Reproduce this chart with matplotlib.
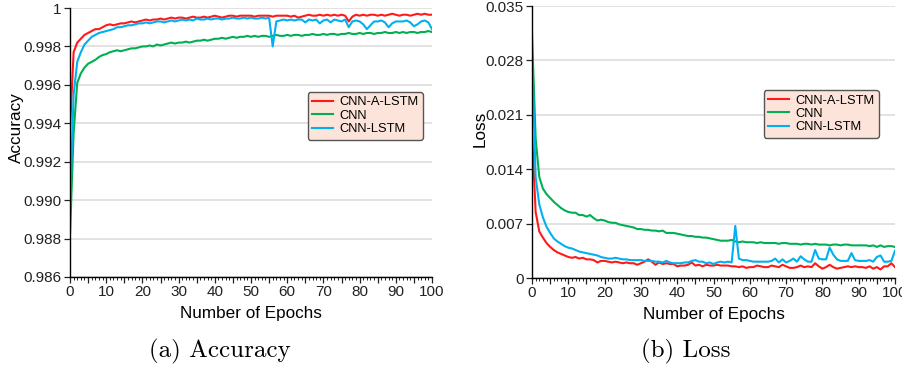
import numpy as np
import matplotlib
matplotlib.use("Agg")
import matplotlib.pyplot as plt
from matplotlib.ticker import MultipleLocator

plt.rcParams['font.family'] = ['Liberation Sans', 'DejaVu Sans']

labels = ["CNN-A-LSTM", "CNN", "CNN-LSTM"]
colors = ["#ff1a1a", "#00b050", "#00b0f0"]

# accuracy per epoch (0..100)
acc_cnn_a_lstm = [
    0.9937, 0.9977, 0.9982, 0.9984, 0.9986, 0.9987, 0.9988, 0.9989, 0.9989, 0.9990,
    0.9991, 0.99915, 0.9991, 0.99915, 0.9992, 0.9992, 0.99925, 0.9993, 0.99925, 0.9993,
    0.99935, 0.9994, 0.99935, 0.9994, 0.9994, 0.99945, 0.9994, 0.99945, 0.9995, 0.99945,
    0.9995, 0.9995, 0.99945, 0.9995, 0.99955, 0.9995, 0.9995, 0.99955, 0.9995, 0.99955,
    0.9996, 0.99955, 0.9995, 0.99955, 0.9996, 0.9996, 0.99955, 0.9996, 0.9996, 0.9996,
    0.9996, 0.99955, 0.9996, 0.9996, 0.9996, 0.9996, 0.99955, 0.9996, 0.9996, 0.9996,
    0.9996, 0.99955, 0.9996, 0.9995, 0.99955, 0.9996, 0.99965, 0.9996, 0.9996, 0.99965,
    0.9996, 0.99965, 0.9996, 0.99965, 0.9996, 0.99965, 0.9996, 0.9993, 0.99955, 0.99965,
    0.9996, 0.99965, 0.9996, 0.99965, 0.99965, 0.9996, 0.99965, 0.9996, 0.99965, 0.9997,
    0.99965, 0.9996, 0.99965, 0.99965, 0.9996, 0.99965, 0.9997, 0.99965, 0.9997, 0.99965,
    0.99965]
acc_cnn = [
    0.9882, 0.9935, 0.9961, 0.9966, 0.9969, 0.9971, 0.9972, 0.9973, 0.99745, 0.99755,
    0.9976, 0.9977, 0.99775, 0.9978, 0.99775, 0.9978, 0.99785, 0.9979, 0.9979, 0.99795,
    0.9980, 0.9980, 0.99805, 0.9980, 0.9981, 0.99805, 0.9981, 0.99815, 0.9982, 0.99815,
    0.9982, 0.9982, 0.99825, 0.9982, 0.99825, 0.9983, 0.9983, 0.99835, 0.9983, 0.99835,
    0.9984, 0.9984, 0.99845, 0.9984, 0.99845, 0.9985, 0.99845, 0.9985, 0.9985, 0.99855,
    0.9985, 0.99855, 0.9985, 0.99855, 0.99855, 0.9985, 0.99855, 0.9986, 0.99855, 0.99855,
    0.9986, 0.99855, 0.9986, 0.9986, 0.99855, 0.9986, 0.9986, 0.99865, 0.9986, 0.9986,
    0.99865, 0.9986, 0.99865, 0.99865, 0.9986, 0.99865, 0.99865, 0.9987, 0.99865, 0.99865,
    0.9987, 0.99865, 0.9987, 0.9987, 0.99865, 0.9987, 0.9987, 0.99875, 0.9987, 0.9987,
    0.99875, 0.9987, 0.99875, 0.9987, 0.99875, 0.99875, 0.9987, 0.99875, 0.99875, 0.9988,
    0.99875]
acc_cnn_lstm = [
    0.9897, 0.9955, 0.9972, 0.9977, 0.9981, 0.9983, 0.9985, 0.9986, 0.9987, 0.99875,
    0.9988, 0.99885, 0.9989, 0.9990, 0.9990, 0.99905, 0.9991, 0.9991, 0.99915, 0.9992,
    0.9992, 0.99925, 0.9992, 0.99925, 0.9993, 0.9993, 0.99925, 0.9993, 0.99935, 0.9993,
    0.99935, 0.9994, 0.99935, 0.9994, 0.99935, 0.99945, 0.9994, 0.9994, 0.99945, 0.9994,
    0.99945, 0.99945, 0.9994, 0.99945, 0.99945, 0.9995, 0.99945, 0.99945, 0.9995, 0.99945,
    0.9995, 0.99945, 0.99945, 0.9995, 0.99945, 0.9995, 0.9980, 0.9993, 0.99935, 0.9994,
    0.99935, 0.9994, 0.99935, 0.9994, 0.9994, 0.99925, 0.9994, 0.99935, 0.9994, 0.9992,
    0.99935, 0.9994, 0.99925, 0.9994, 0.99935, 0.9993, 0.9994, 0.9990, 0.9993, 0.99935,
    0.9993, 0.99915, 0.9989, 0.9991, 0.9993, 0.9993, 0.99935, 0.99925, 0.9990, 0.9992,
    0.9993, 0.9993, 0.9993, 0.99935, 0.99925, 0.99905, 0.99915, 0.9993, 0.99935, 0.99925,
    0.9989]

# loss per epoch (0..100)
loss_cnn_a_lstm = [
    0.0188, 0.0085, 0.0060, 0.0052, 0.0045, 0.0040, 0.0036, 0.0033, 0.0031, 0.0029,
    0.0027, 0.0026, 0.0027, 0.0025, 0.0026, 0.0024, 0.0024, 0.0023, 0.0020, 0.0022,
    0.0022, 0.0021, 0.0020, 0.0021, 0.0020, 0.0019, 0.0020, 0.0019, 0.0019, 0.0017,
    0.0019, 0.0021, 0.0024, 0.0021, 0.0017, 0.0020, 0.0018, 0.0019, 0.0018, 0.0018,
    0.0015, 0.0016, 0.0016, 0.0017, 0.0020, 0.0016, 0.0017, 0.0015, 0.0017, 0.0016,
    0.0016, 0.0017, 0.0016, 0.0016, 0.0016, 0.0015, 0.0015, 0.0014, 0.0015, 0.0013,
    0.0014, 0.0014, 0.0016, 0.0015, 0.0014, 0.0014, 0.0016, 0.0015, 0.0014, 0.0017,
    0.0015, 0.0013, 0.0013, 0.0014, 0.0016, 0.0014, 0.0015, 0.0014, 0.0019, 0.0015,
    0.0012, 0.0014, 0.0017, 0.0014, 0.0012, 0.0013, 0.0014, 0.0015, 0.0014, 0.0015,
    0.0014, 0.0014, 0.0013, 0.0015, 0.0012, 0.0014, 0.0011, 0.0015, 0.0015, 0.0019,
    0.0014]
loss_cnn = [
    0.0314, 0.0180, 0.0130, 0.0115, 0.0108, 0.0103, 0.0098, 0.0094, 0.0090, 0.0087,
    0.0085, 0.0084, 0.0084, 0.0081, 0.0081, 0.0079, 0.0081, 0.0077, 0.0074, 0.0075,
    0.0074, 0.0072, 0.0071, 0.0071, 0.0069, 0.0068, 0.0067, 0.0066, 0.0065, 0.0063,
    0.0063, 0.0062, 0.0062, 0.0061, 0.0061, 0.0060, 0.0061, 0.0058, 0.0058, 0.0058,
    0.0057, 0.0056, 0.0055, 0.0054, 0.0054, 0.0053, 0.0053, 0.0052, 0.0052, 0.0051,
    0.0050, 0.0049, 0.0048, 0.0048, 0.0048, 0.0049, 0.0047, 0.0046, 0.0047, 0.0046,
    0.0046, 0.0046, 0.0045, 0.0046, 0.0045, 0.0045, 0.0045, 0.0045, 0.0044, 0.0045,
    0.0045, 0.0044, 0.0044, 0.0044, 0.0043, 0.0044, 0.0044, 0.0043, 0.0044, 0.0043,
    0.0043, 0.0043, 0.0042, 0.0043, 0.0043, 0.0042, 0.0043, 0.0043, 0.0042, 0.0042,
    0.0042, 0.0042, 0.0042, 0.0041, 0.0042, 0.0040, 0.0042, 0.0040, 0.0041, 0.0041,
    0.0040]
loss_cnn_lstm = [
    0.0290, 0.0130, 0.0095, 0.0078, 0.0066, 0.0058, 0.0051, 0.0047, 0.0044, 0.0041,
    0.0039, 0.0038, 0.0036, 0.0034, 0.0033, 0.0032, 0.0031, 0.0030, 0.0029, 0.0027,
    0.0026, 0.0025, 0.0025, 0.0026, 0.0025, 0.0024, 0.0024, 0.0023, 0.0023, 0.0023,
    0.0023, 0.0022, 0.0022, 0.0022, 0.0021, 0.0021, 0.0020, 0.0022, 0.0020, 0.0019,
    0.0019, 0.0019, 0.0020, 0.0020, 0.0022, 0.0023, 0.0021, 0.0021, 0.0019, 0.0020,
    0.0018, 0.0020, 0.0021, 0.0020, 0.0021, 0.0020, 0.0067, 0.0025, 0.0023, 0.0023,
    0.0022, 0.0021, 0.0021, 0.0021, 0.0021, 0.0021, 0.0022, 0.0025, 0.0020, 0.0024,
    0.0020, 0.0022, 0.0025, 0.0021, 0.0028, 0.0024, 0.0021, 0.0021, 0.0036, 0.0025,
    0.0024, 0.0024, 0.0039, 0.0030, 0.0024, 0.0022, 0.0022, 0.0022, 0.0032, 0.0023,
    0.0022, 0.0022, 0.0022, 0.0023, 0.0021, 0.0027, 0.0029, 0.0021, 0.0021, 0.0022,
    0.0035]

epochs = np.arange(len(acc_cnn))

acc_ticks = [0.986, 0.988, 0.990, 0.992, 0.994, 0.996, 0.998, 1.0]
acc_ticklabels = ["0.986", "0.988", "0.990", "0.992", "0.994", "0.996", "0.998", "1"]
loss_ticks = [0, 0.007, 0.014, 0.021, 0.028, 0.035]
loss_ticklabels = ["0", "0.007", "0.014", "0.021", "0.028", "0.035"]

W, H = 902, 369
fig = plt.figure(figsize=(W / 100, H / 100), dpi=100)


def px_axes(x0, y0, x1, y1):
    return fig.add_axes([x0 / W, 1 - y1 / H, (x1 - x0) / W, (y1 - y0) / H])


def style(ax, ticks, ticklabels, ylim):
    ax.set_xlim(0, 100)
    ax.set_ylim(*ylim)
    ax.set_yticks(ticks)
    ax.set_yticklabels(ticklabels)
    ax.xaxis.set_major_locator(MultipleLocator(5))
    ax.set_xticklabels([str(int(t)) if int(t) % 10 == 0 else "" for t in ax.get_xticks()])
    ax.xaxis.set_minor_locator(MultipleLocator(1))
    ax.tick_params(axis='x', which='major', length=4, width=0.9, pad=2, labelsize=11, colors='#222222')
    ax.tick_params(axis='x', which='minor', length=2, width=0.6)
    ax.tick_params(axis='y', length=4, width=0.9, pad=2, labelsize=11, colors='#222222')
    for s in ['top', 'right']:
        ax.spines[s].set_visible(False)
    for s in ['left', 'bottom']:
        ax.spines[s].set_linewidth(1.0)
        ax.spines[s].set_color('black')
    ax.grid(axis='y', color='#dddddd', linewidth=1.2)
    ax.set_axisbelow(True)
    ax.set_xlabel("Number of Epochs", fontsize=12.3, labelpad=5)


ax1 = px_axes(70, 8, 432, 277)
for data, lab, c in zip([acc_cnn_a_lstm, acc_cnn, acc_cnn_lstm], labels, colors):
    ax1.plot(epochs, data, color=c, lw=1.5, label=lab)
style(ax1, acc_ticks, acc_ticklabels, (0.986, 1.0))
ax1.set_ylabel("Accuracy", fontsize=12.3)
ax1.yaxis.set_label_coords(-0.127, 0.554)

ax2 = px_axes(532, 6, 895, 278)
for data, lab, c in zip([loss_cnn_a_lstm, loss_cnn, loss_cnn_lstm], labels, colors):
    ax2.plot(epochs, data, color=c, lw=1.5, label=lab)
style(ax2, loss_ticks, loss_ticklabels, (0, 0.035))
ax2.set_ylabel("Loss", fontsize=12.3)
ax2.yaxis.set_label_coords(-0.121, 0.55)

for ax, anchor in [(ax1, (0.975, 0.688)), (ax2, (0.956, 0.691))]:
    leg = ax.legend(loc='upper right', bbox_to_anchor=anchor, borderaxespad=0,
                    fontsize=9.3, handlelength=1.6, handletextpad=0.5,
                    labelspacing=0.1, borderpad=0.35, fancybox=True, framealpha=1)
    leg.get_frame().set_facecolor('#fde4da')
    leg.get_frame().set_edgecolor('#555555')
    leg.get_frame().set_linewidth(1.0)

fig.text(220 / W, 1 - 351 / H, "(a) Accuracy", fontsize=18, family='cmr10', ha='center', va='center')
fig.text(686 / W, 1 - 351 / H, "(b) Loss", fontsize=18, family='cmr10', ha='center', va='center')

fig.savefig("out.png", dpi=100)
